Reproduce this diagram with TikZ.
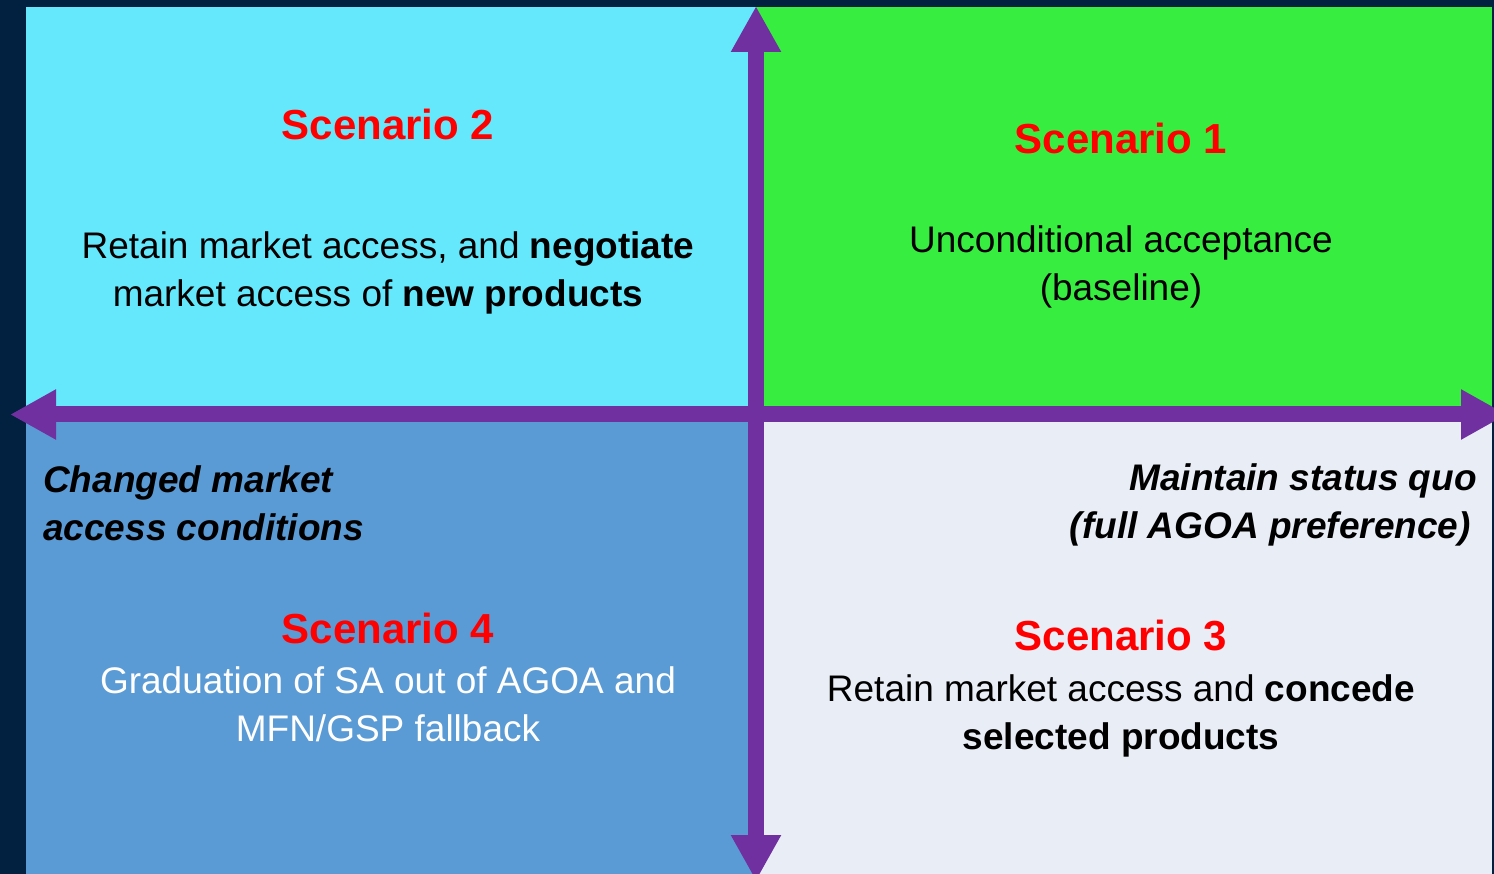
\documentclass[tikz,border=0pt]{standalone}
\usepackage{fontspec}
\setmainfont{Liberation Sans}
\usetikzlibrary{arrows.meta}
\definecolor{navy}{HTML}{02203F}
\definecolor{cyanq}{HTML}{66E8FC}
\definecolor{greenq}{HTML}{37EE40}
\definecolor{blueq}{HTML}{5B9BD5}
\definecolor{greyq}{HTML}{E9EDF6}
\definecolor{axiscol}{HTML}{7030A0}
\definecolor{scred}{HTML}{FF0000}

\begin{document}
\begin{tikzpicture}[x=1pt,y=-1pt,>={Triangle[length=46pt,width=47pt]}]
    \tikzstyle{every node}=[inner sep=0pt,anchor=base];
    \tikzstyle{title}=[text=scred,font=\fontsize{42}{48}\selectfont\bfseries];
    \tikzstyle{body}=[align=center,font=\fontsize{37}{48}\selectfont];
    \tikzstyle{axislabel}=[font=\fontsize{37}{48}\selectfont\bfseries\itshape];
    \useasboundingbox (0,0) rectangle (1494,874);
    \clip (0,0) rectangle (1494,874);

    % quadrants
    \fill[navy] (0,0) rectangle (1494,874);
    \fill[cyanq] (26,7) rectangle (756,414);
    \fill[greenq] (756,7) rectangle (1492,414);
    \fill[blueq] (26,414) rectangle (756,874);
    \fill[greyq] (756,414) rectangle (1492,874);

    % axes
    \coordinate (top) at (756,6);
    \coordinate (bottom) at (756,881);
    \coordinate (left) at (10,414.5);
    \coordinate (right) at (1507,414.5);
    \path[<->,draw,axiscol,line width=16pt] (bottom) -- (top);
    \path[<->,draw,axiscol,line width=16pt] (left) -- (right);

    % texts (multi-line nodes sit on their last baseline)
    \path (388,140) node[title] (s2) {Scenario 2};
    \path (388,307) node[body] (b2) {Retain market access, and \textbf{negotiate}\\
        market access of \textbf{new products}\hspace*{20pt}};
    \path (1121,154) node[title] (s1) {Scenario 1};
    \path (1121,301) node[body] (b1) {Unconditional acceptance\\(baseline)};
    \path (43,540) node[axislabel,anchor=base west,align=left] (changed)
        {Changed market\\access conditions};
    \path (1477,538) node[axislabel,anchor=base east,align=right] (status)
        {Maintain status quo\\(full AGOA preference)\hspace*{6pt}};
    \path (388,643) node[title] (s4) {Scenario 4};
    \path (388,741) node[body,text=white] (b4) {Graduation of SA out of AGOA and\\
        MFN/GSP fallback};
    \path (1121,650) node[title] (s3) {Scenario 3};
    \path (1121,749) node[body] (b3) {Retain market access and \textbf{concede}\\
        \textbf{selected products}};
\end{tikzpicture}
\end{document}
